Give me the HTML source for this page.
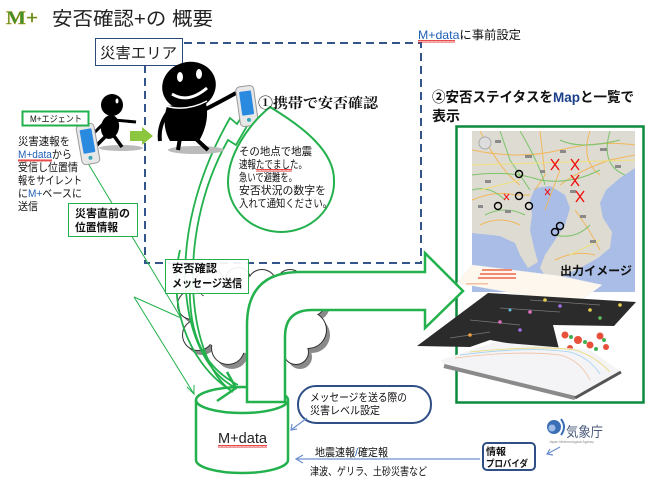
<!DOCTYPE html>
<html><head><meta charset="utf-8"><style>
html,body{margin:0;padding:0;background:#fff;}
svg{display:block;}
</style></head><body>
<svg width="648" height="486" viewBox="0 0 648 486" xmlns="http://www.w3.org/2000/svg" font-family="'Liberation Sans','Noto Sans CJK JP',sans-serif">
<defs>
<pattern id="wave" width="4" height="3" patternUnits="userSpaceOnUse"><path d="M0 2.5 L1 0.5 L2 2.5 L3 0.5 L4 2.5" fill="none" stroke="#e02020" stroke-width="0.8"/></pattern>
<clipPath id="mapclip"><rect x="472" y="131" width="163" height="161"/></clipPath>
</defs>
<rect width="648" height="486" fill="#fff"/>

<!-- Title -->
<text x="6" y="24" font-family="'Liberation Serif',serif" font-weight="bold" font-size="19" fill="#3f8f2a" stroke="#b89a20" stroke-width="0.4" textLength="32" lengthAdjust="spacingAndGlyphs">M+</text>
<text x="52" y="25" font-size="19" fill="#222" textLength="161" lengthAdjust="spacingAndGlyphs">安否確認+の 概要</text>

<!-- dashed area -->
<rect x="145" y="43" width="276" height="220" fill="none" stroke="#34558b" stroke-width="2" stroke-dasharray="8 5"/>
<rect x="95.5" y="38.5" width="87" height="27" fill="#fff" stroke="#2a4a7a" stroke-width="1"/>
<text x="100" y="58" font-size="15" fill="#222" textLength="77" lengthAdjust="spacingAndGlyphs">災害エリア</text>

<text x="418" y="39" font-size="12" fill="#111" textLength="103" lengthAdjust="spacingAndGlyphs"><tspan fill="#1f5fb5">M+data</tspan>に事前設定</text>
<rect x="418" y="40" width="37" height="3" fill="url(#wave)"/>

<!-- right heading -->
<text x="432" y="102" font-size="14" font-weight="bold" fill="#111" textLength="202" lengthAdjust="spacingAndGlyphs">②安否ステイタスを<tspan fill="#1a3f8a">Map</tspan>と一覧で</text>
<text x="432" y="121" font-size="14" font-weight="bold" fill="#111" textLength="28" lengthAdjust="spacingAndGlyphs">表示</text>

<!-- right box -->
<rect x="456.5" y="126.5" width="187" height="276" fill="none" stroke="#0c8a3e" stroke-width="2.5"/>

<!-- map -->
<g clip-path="url(#mapclip)">
<rect x="472" y="131" width="163" height="161" fill="#a9bde6"/>
<polygon fill="#dedbd2" points="472,131 635,131 635,168 620,178 606,190 600,203 603,218 612,232 610,248 598,258 580,268 562,276 548,280 540,268 545,255 555,240 565,225 570,208 565,195 550,186 535,188 530,200 532,215 530,230 534,248 538,262 528,268 520,255 515,243 500,236 472,233"/>
<g fill="none" stroke="#f2b75b" stroke-width="1">
<path d="M472 150 Q520 160 560 150 T635 145"/>
<path d="M480 131 Q500 170 520 185"/>
<path d="M540 131 L545 175 L535 190"/>
<path d="M590 131 Q580 160 600 175"/>
<path d="M472 200 Q495 190 515 195 L530 195"/>
<path d="M560 185 Q580 170 610 160 L635 155"/>
<path d="M575 210 Q590 230 600 250"/>
<path d="M545 210 L560 170"/>
<path d="M480 225 Q500 215 520 225"/>
<path d="M555 260 Q575 250 595 255"/>
</g>
<g fill="none" stroke="#7cc46a" stroke-width="1">
<path d="M472 175 Q510 170 540 180 Q570 185 600 170"/>
<path d="M500 131 L510 160 L530 190"/>
<path d="M520 131 Q540 165 545 185"/>
<path d="M560 140 Q580 150 620 140"/>
<path d="M485 215 Q505 205 525 215"/>
<path d="M555 235 Q575 240 590 225"/>
<path d="M610 131 Q600 165 625 175"/>
<path d="M472 190 Q490 185 505 200"/>
</g>
<g fill="none" stroke="#f0e07a" stroke-width="1">
<path d="M472 165 L635 160"/>
<path d="M480 190 L520 180"/>
<path d="M570 255 L600 240"/>
</g>
<g fill="#8a8a8a">
<rect x="495" y="140" width="6" height="3"/><rect x="525" y="155" width="7" height="3"/><rect x="560" y="150" width="6" height="3"/>
<rect x="600" y="148" width="7" height="3"/><rect x="615" y="165" width="6" height="3"/><rect x="485" y="180" width="6" height="3"/>
<rect x="505" y="210" width="6" height="3"/><rect x="580" y="215" width="6" height="3"/><rect x="590" y="240" width="6" height="3"/>
<rect x="540" y="170" width="5" height="3"/><rect x="478" y="205" width="5" height="3"/><rect x="570" y="190" width="6" height="3"/>
</g>
<circle cx="485" cy="143" r="6" fill="#ddd" stroke="#aaa" stroke-width="1"/>
<g fill="none" stroke="#000" stroke-width="1.4">
<circle cx="519" cy="174" r="3.5"/><circle cx="519" cy="196" r="3.5"/><circle cx="498" cy="206" r="3.5"/>
<circle cx="529" cy="206" r="3.5"/><circle cx="560" cy="226" r="3.5"/><circle cx="555" cy="232" r="3.5"/>
</g>
<g stroke="#ee1111" stroke-width="1.4">
<path d="M551 159 L559 170 M559 159 L551 170"/>
<path d="M571 159 L579 170 M579 159 L571 170"/>
<path d="M571 175 L579 186 M579 175 L571 186"/>
<path d="M576 191 L584 202 M584 191 L576 202"/>
<path d="M504 194 L509 200 M509 194 L504 200" stroke-width="1"/>
<path d="M545 189 L550 195 M550 189 L545 195" stroke-width="1"/>
</g>
</g>
<text x="560" y="275" font-size="12" font-weight="bold" fill="#111" textLength="72" lengthAdjust="spacingAndGlyphs">出力イメージ</text>

<!-- pale sheet -->
<polygon points="472,265 560,276 602,285 576,304 457,283" fill="#fdf7ee" stroke="#eeeeee" stroke-width="0.5"/>
<g fill="#f08a70">
<rect x="482" y="269" width="30" height="2"/><rect x="480" y="273" width="36" height="2"/><rect x="478" y="277" width="38" height="2"/>
<rect x="466" y="283" width="22" height="1.5" fill="#f4c0a0"/>
</g>
<!-- dark sheet -->
<polygon points="417,346 488,293 636,302 614,326 553,325 560,353 490,340 470,347" fill="#2b2b2b"/>
<g stroke="#777" stroke-width="0.8">
<path d="M470 320 L520 325"/><path d="M500 308 L560 312"/><path d="M530 300 L600 305"/><path d="M450 338 L490 332"/>
</g>
<g>
<circle cx="545" cy="300" r="1.8" fill="#e8d050"/><circle cx="530" cy="312" r="1.8" fill="#e070c0"/>
<circle cx="560" cy="306" r="1.8" fill="#a070e0"/><circle cx="590" cy="310" r="1.8" fill="#e8d050"/>
<circle cx="600" cy="318" r="1.8" fill="#60c060"/><circle cx="500" cy="322" r="1.8" fill="#e070c0"/>
<circle cx="520" cy="330" r="1.8" fill="#a070e0"/><circle cx="470" cy="335" r="1.8" fill="#f0a040"/>
<circle cx="620" cy="305" r="1.8" fill="#e8d050"/><circle cx="510" cy="310" r="1.5" fill="#60c0e0"/>
</g>
<g>
<circle cx="565" cy="335" r="3.5" fill="#e8503a"/><circle cx="578" cy="340" r="4" fill="#e8503a"/>
<circle cx="590" cy="345" r="3.5" fill="#e8503a"/><circle cx="600" cy="336" r="3.5" fill="#e8503a"/>
<circle cx="570" cy="348" r="3" fill="#e8503a"/><circle cx="606" cy="347" r="3" fill="#e8503a"/>
<circle cx="571" cy="337" r="2" fill="#40b050"/><circle cx="585" cy="342" r="2" fill="#40b050"/>
<circle cx="596" cy="349" r="2" fill="#40b050"/><circle cx="604" cy="340" r="2" fill="#40b050"/>
</g>
<!-- white bottom sheet -->
<polygon points="441,360 495,342 590,350 621,372 575,398 444,366" fill="#f4f4f6"/>
<path d="M455 358 Q520 350 560 355 Q580 360 590 380" fill="none" stroke="#f0c0a0" stroke-width="0.8"/>
<path d="M460 355 Q530 346 570 352 Q590 358 600 374" fill="none" stroke="#a0d0f0" stroke-width="0.8"/>
<path d="M470 352 Q540 345 575 350 Q595 356 610 372" fill="none" stroke="#e8d870" stroke-width="0.8"/>
<path d="M444 366 L575 398" stroke="#8a8a8a" stroke-width="4"/>
<path d="M575 398 L621 372" stroke="#555" stroke-width="3"/>

<!-- cloud -->
<g transform="translate(4,5)" fill="#8a8a8a">
<circle cx="262" cy="284" r="14"/><circle cx="290" cy="283" r="13"/><circle cx="310" cy="300" r="16"/>
<circle cx="308" cy="330" r="18"/><circle cx="296" cy="352" r="12"/><circle cx="262" cy="350" r="15"/>
<circle cx="228" cy="348" r="16"/><circle cx="198" cy="335" r="15"/><circle cx="192" cy="305" r="14"/>
<circle cx="210" cy="283" r="14"/><circle cx="238" cy="280" r="12"/><ellipse cx="250" cy="318" rx="60" ry="35"/>
</g>
<g fill="#fff" stroke="#333" stroke-width="2">
<circle cx="262" cy="284" r="14"/><circle cx="290" cy="283" r="13"/><circle cx="310" cy="300" r="16"/>
<circle cx="308" cy="330" r="18"/><circle cx="296" cy="352" r="12"/><circle cx="262" cy="350" r="15"/>
<circle cx="228" cy="348" r="16"/><circle cx="198" cy="335" r="15"/><circle cx="192" cy="305" r="14"/>
<circle cx="210" cy="283" r="14"/><circle cx="238" cy="280" r="12"/>
</g>
<g fill="#fff">
<circle cx="262" cy="284" r="14"/><circle cx="290" cy="283" r="13"/><circle cx="310" cy="300" r="16"/>
<circle cx="308" cy="330" r="18"/><circle cx="296" cy="352" r="12"/><circle cx="262" cy="350" r="15"/>
<circle cx="228" cy="348" r="16"/><circle cx="198" cy="335" r="15"/><circle cx="192" cy="305" r="14"/>
<circle cx="210" cy="283" r="14"/><circle cx="238" cy="280" r="12"/><ellipse cx="250" cy="318" rx="60" ry="35"/>
</g>

<!-- thin green lines -->
<g stroke="#22b14c" stroke-width="1" fill="none">
<path d="M86 160 L181 318"/>
<path d="M134 297 L181 318"/>
<path d="M134 297 L194 394"/>
<path d="M187 387 L194 394 L194 385"/>
</g>

<!-- cylinder -->
<path d="M196 400 L196 460 A46 13 0 0 0 288 460 L288 400" fill="#fff" stroke="#22b14c" stroke-width="2.5"/>
<ellipse cx="242" cy="400" rx="46" ry="13" fill="#fff" stroke="#22b14c" stroke-width="2.5"/>
<text x="218" y="443" font-size="15" fill="#222" textLength="49" lengthAdjust="spacingAndGlyphs">M+data</text>
<rect x="218" y="445" width="49" height="3" fill="url(#wave)"/>

<!-- big arrow -->
<path d="M247 402 L247 325 Q247 272 300 272 L425 272 L425 253 L463 291 L425 328 L425 310 L312 310 Q285 310 285 337 L285 402 Z" fill="#fff" stroke="#22b14c" stroke-width="2.5" stroke-linejoin="miter"/>

<!-- green curves -->
<g stroke="#22b14c" stroke-width="1.8" fill="none">
<path d="M236 388 C180 360 160 240 230 118 L237 124 L246 110"/>
<path d="M233 392 C190 365 172 240 228 140 L236 145 L247 126"/>
<path d="M230 390 C185 360 168 300 180 250"/>
<path d="M238 385 C200 365 188 330 190 280"/>
<path d="M227 372 L236 388 L217 401" stroke-width="2.5"/>
</g>

<!-- figures -->
<ellipse cx="196" cy="150" rx="28" ry="4" fill="#bbb"/>
<ellipse cx="121" cy="148" rx="22" ry="3" fill="#bbb"/>
<g fill="#000" stroke="#000">
<ellipse cx="189" cy="86" rx="27" ry="24" transform="rotate(-15 189 86)" stroke="none"/>
<path d="M167 106 Q161 126 170 141 L199 141 Q210 122 206 103 Z" stroke="none"/>
<path d="M168 112 Q158 126 160 141" fill="none" stroke-width="4"/>
<path d="M200 112 Q216 104 236 93" fill="none" stroke-width="4"/>
<path d="M180 138 L178 150 M195 138 L208 150" fill="none" stroke-width="4"/>
<circle cx="112" cy="105" r="11" stroke="none"/>
<ellipse cx="110" cy="127" rx="9" ry="12" transform="rotate(10 110 127)" stroke="none"/>
<path d="M114 120 L136 122" fill="none" stroke-width="3"/>
<path d="M105 122 L94 133" fill="none" stroke-width="3"/>
<path d="M106 136 L97 145 M114 136 L122 147" fill="none" stroke-width="3.5"/>
</g>
<path d="M166 106 Q186 112 207 101" fill="none" stroke="#fff" stroke-width="1.5"/>
<ellipse cx="180" cy="77" rx="3" ry="5" fill="#fff"/>
<ellipse cx="199" cy="74" rx="3" ry="5" fill="#fff"/>
<path d="M172 94 Q188 104 207 88" fill="none" stroke="#fff" stroke-width="3"/>
<ellipse cx="117" cy="101" rx="1.5" ry="2.5" fill="#fff"/>

<!-- small green arrow -->
<polygon points="130,131 142,131 142,127 153,136 142,145 142,141 130,141" fill="#8cc63f"/>

<!-- phones -->
<g transform="rotate(-10 88 144)">
<rect x="79" y="124" width="18" height="40" rx="4" fill="#e8e8e8" stroke="#999" stroke-width="1"/>
<rect x="82" y="129" width="12" height="24" rx="1" fill="#2a8ae0"/>
<circle cx="88" cy="158" r="2" fill="#3aa8b8"/>
</g>
<g transform="rotate(-8 247 106)">
<rect x="238" y="86" width="18" height="40" rx="4" fill="#e8e8e8" stroke="#999" stroke-width="1"/>
<rect x="241" y="91" width="12" height="24" rx="1" fill="#2a8ae0"/>
<circle cx="247" cy="120" r="2" fill="#3aa8b8"/>
</g>

<!-- bubble -->
<path d="M270 107 C248 125 228 155 228 182 A53 50 0 0 0 281 232 A53 50 0 0 0 334 180 C334 152 305 128 270 107 Z" fill="#fff" stroke="#22b14c" stroke-width="2"/>
<text x="258" y="108" font-family="'Liberation Serif','Noto Serif CJK SC',serif" font-size="14" font-weight="bold" fill="#111" textLength="120" lengthAdjust="spacingAndGlyphs">①携帯で安否確認</text>
<g font-size="11" fill="#111">
<text x="239" y="155" textLength="73" lengthAdjust="spacingAndGlyphs">その地点で地震</text>
<text x="239" y="168" textLength="68" lengthAdjust="spacingAndGlyphs">速報たでました。</text>
<text x="239" y="181" textLength="58" lengthAdjust="spacingAndGlyphs">急いで避難を。</text>
<text x="239" y="194" textLength="87" lengthAdjust="spacingAndGlyphs">安否状況の数字を</text>
<text x="239" y="207" textLength="93" lengthAdjust="spacingAndGlyphs">入れて通知ください。</text>
</g>
<rect x="256" y="169" width="36" height="3" fill="url(#wave)"/>

<!-- left text -->
<rect x="22.5" y="111.5" width="66" height="14" fill="#fff" stroke="#22b14c" stroke-width="2"/>
<text x="30" y="122" font-size="9" fill="#111" textLength="52" lengthAdjust="spacingAndGlyphs">M+エジェント</text>
<g font-size="11" fill="#111">
<text x="18" y="145" textLength="52" lengthAdjust="spacingAndGlyphs">災害速報を</text>
<text x="18" y="158" textLength="54" lengthAdjust="spacingAndGlyphs"><tspan fill="#1f5fb5">M+data</tspan>から</text>
<text x="18" y="171" textLength="60" lengthAdjust="spacingAndGlyphs">受信し位置情</text>
<text x="18" y="184" textLength="64" lengthAdjust="spacingAndGlyphs">報をサイレント</text>
<text x="18" y="197" textLength="64" lengthAdjust="spacingAndGlyphs">に<tspan fill="#1f5fb5">M+</tspan>ベースに</text>
<text x="18" y="210" textLength="20" lengthAdjust="spacingAndGlyphs">送信</text>
</g>
<rect x="18" y="159" width="34" height="3" fill="url(#wave)"/>

<!-- callout boxes -->
<rect x="68.5" y="203.5" width="69" height="33" fill="#fff" stroke="#22b14c" stroke-width="1"/>
<text x="75" y="217" font-size="11" font-weight="bold" fill="#111" textLength="55" lengthAdjust="spacingAndGlyphs">災害直前の</text>
<text x="75" y="231" font-size="11" font-weight="bold" fill="#111" textLength="43" lengthAdjust="spacingAndGlyphs">位置情報</text>

<rect x="165.5" y="259.5" width="83" height="34" fill="#fff" fill-opacity="0.92" stroke="#22b14c" stroke-width="1"/>
<text x="172" y="272" font-size="11" font-weight="bold" fill="#111" textLength="45" lengthAdjust="spacingAndGlyphs">安否確認</text>
<text x="172" y="287" font-size="11" font-weight="bold" fill="#111" textLength="70" lengthAdjust="spacingAndGlyphs">メッセージ送信</text>

<!-- bottom items -->
<rect x="298" y="386" width="133" height="37" rx="18" fill="#fff" stroke="#2f4f86" stroke-width="2"/>
<text x="310" y="401" font-size="11" fill="#111" textLength="97" lengthAdjust="spacingAndGlyphs">メッセージを送る際の</text>
<text x="310" y="414" font-size="11" fill="#111" textLength="70" lengthAdjust="spacingAndGlyphs">災害レベル設定</text>
<g stroke="#6d8fd0" stroke-width="1.2" fill="none">
<path d="M307 418 L291 430"/><path d="M292 424 L291 430 L297 429"/>
<path d="M480 459 L297 459"/><path d="M303 455 L296 459 L303 463"/>
<path d="M560 447 L547 454"/><path d="M550 449 L547 454 L553 455"/>
</g>
<text x="315" y="456" font-size="11" fill="#111" textLength="73" lengthAdjust="spacingAndGlyphs">地震速報<tspan fill="#1f5fb5">/</tspan>確定報</text>
<text x="310" y="475" font-size="11" fill="#111" textLength="117" lengthAdjust="spacingAndGlyphs">津波、ゲリラ、土砂災害など</text>

<rect x="483" y="443" width="52" height="27" rx="4" fill="#fff" stroke="#2f4f86" stroke-width="2"/>
<text x="486" y="455" font-size="9.5" font-weight="bold" fill="#111" textLength="20" lengthAdjust="spacingAndGlyphs">情報</text>
<text x="486" y="467" font-size="9.5" font-weight="bold" fill="#111" textLength="42" lengthAdjust="spacingAndGlyphs">プロバイダ</text>

<circle cx="554" cy="427" r="7" fill="#3b6fb5"/>
<circle cx="552" cy="428" r="3.5" fill="#9fbbe6"/>
<path d="M561 419 Q567 427 561 435" fill="none" stroke="#3b6fb5" stroke-width="2"/>
<text x="566" y="437" font-size="14" fill="#4a5a7a" textLength="37" lengthAdjust="spacingAndGlyphs">気象庁</text>
<text x="549" y="443" font-size="3.5" fill="#888" textLength="45" lengthAdjust="spacingAndGlyphs">Japan Meteorological Agency</text>
</svg>
</body></html>
